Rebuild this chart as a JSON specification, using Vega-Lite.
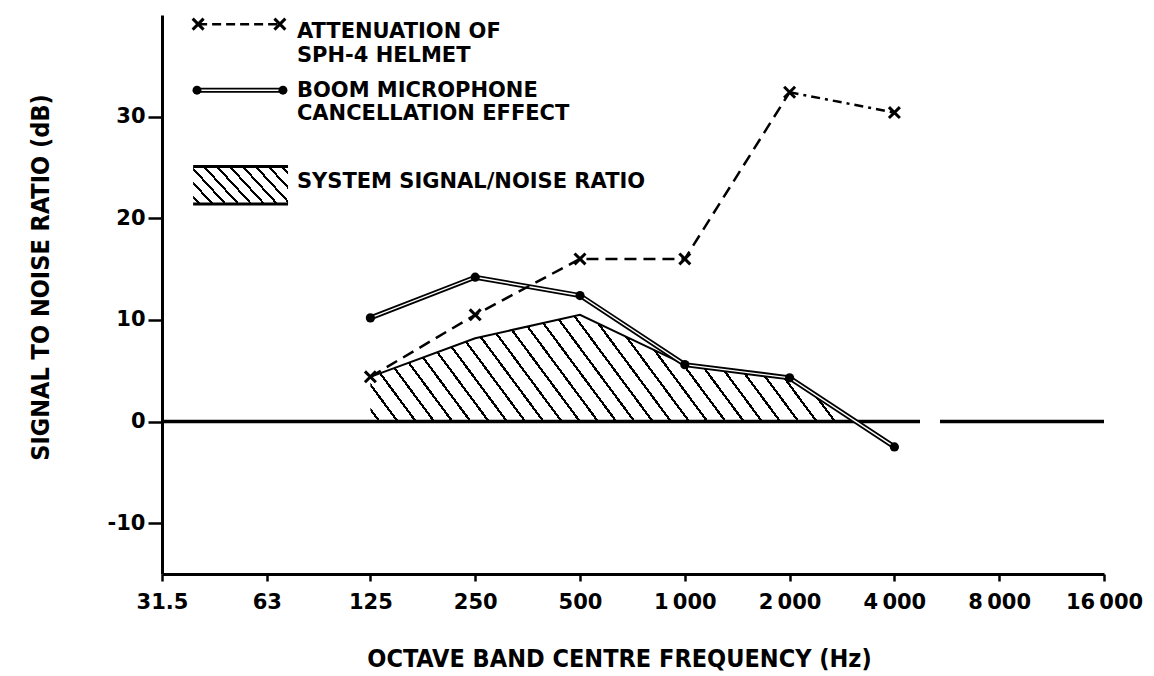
{
  "$schema": "https://vega.github.io/schema/vega-lite/v6.json",
  "width": 942,
  "height": 559,
  "autosize": {"type": "none"},
  "padding": {"left": 162, "top": 15, "right": 50, "bottom": 102},
  "background": "white",
  "config": {
    "view": {"stroke": null},
    "axis": {
      "grid": false,
      "domainColor": "black",
      "domainWidth": 3,
      "tickColor": "black",
      "tickWidth": 2.5,
      "labelColor": "black",
      "labelFont": "DejaVu Sans",
      "labelFontWeight": "bold",
      "labelFontSize": 21,
      "titleFont": "DejaVu Sans Condensed",
      "titleFontWeight": "bold",
      "titleFontSize": 25,
      "titleColor": "black"
    }
  },
  "datasets": {
    "attenuation": [
      {"freq": 125, "db": 4.4},
      {"freq": 250, "db": 10.5},
      {"freq": 500, "db": 16.0},
      {"freq": 1000, "db": 16.0},
      {"freq": 2000, "db": 32.4},
      {"freq": 4000, "db": 30.4}
    ],
    "boom": [
      {"freq": 125, "db": 10.2},
      {"freq": 250, "db": 14.2},
      {"freq": 500, "db": 12.4},
      {"freq": 1000, "db": 5.6},
      {"freq": 2000, "db": 4.3},
      {"freq": 4000, "db": -2.5}
    ],
    "system": [
      {"freq": 125, "db": 4.4},
      {"freq": 250, "db": 8.2},
      {"freq": 500, "db": 10.5},
      {"freq": 1000, "db": 5.6},
      {"freq": 2000, "db": 4.3},
      {"freq": 3100, "db": 0}
    ]
  },
  "data": {"values": [{}]},
  "layer": [
    {
      "data": {"name": "system"},
      "mark": {
        "type": "area",
        "stroke": null,
        "fillOpacity": 1,
        "fill": {
          "gradient": "linear",
          "x1": 0, "y1": 1, "x2": 1.1331, "y2": 0.8152,
          "stops": [
            {"offset": 0, "color": "white"},
            {"offset": 0.0136, "color": "white"}, {"offset": 0.0136, "color": "black"}, {"offset": 0.0186, "color": "black"}, {"offset": 0.0186, "color": "white"},
            {"offset": 0.0459, "color": "white"}, {"offset": 0.0459, "color": "black"}, {"offset": 0.0509, "color": "black"}, {"offset": 0.0509, "color": "white"},
            {"offset": 0.0781, "color": "white"}, {"offset": 0.0781, "color": "black"}, {"offset": 0.0831, "color": "black"}, {"offset": 0.0831, "color": "white"},
            {"offset": 0.1104, "color": "white"}, {"offset": 0.1104, "color": "black"}, {"offset": 0.1154, "color": "black"}, {"offset": 0.1154, "color": "white"},
            {"offset": 0.1427, "color": "white"}, {"offset": 0.1427, "color": "black"}, {"offset": 0.1477, "color": "black"}, {"offset": 0.1477, "color": "white"},
            {"offset": 0.1749, "color": "white"}, {"offset": 0.1749, "color": "black"}, {"offset": 0.1799, "color": "black"}, {"offset": 0.1799, "color": "white"},
            {"offset": 0.2072, "color": "white"}, {"offset": 0.2072, "color": "black"}, {"offset": 0.2122, "color": "black"}, {"offset": 0.2122, "color": "white"},
            {"offset": 0.2394, "color": "white"}, {"offset": 0.2394, "color": "black"}, {"offset": 0.2444, "color": "black"}, {"offset": 0.2444, "color": "white"},
            {"offset": 0.2717, "color": "white"}, {"offset": 0.2717, "color": "black"}, {"offset": 0.2767, "color": "black"}, {"offset": 0.2767, "color": "white"},
            {"offset": 0.3040, "color": "white"}, {"offset": 0.3040, "color": "black"}, {"offset": 0.3090, "color": "black"}, {"offset": 0.3090, "color": "white"},
            {"offset": 0.3362, "color": "white"}, {"offset": 0.3362, "color": "black"}, {"offset": 0.3412, "color": "black"}, {"offset": 0.3412, "color": "white"},
            {"offset": 0.3685, "color": "white"}, {"offset": 0.3685, "color": "black"}, {"offset": 0.3735, "color": "black"}, {"offset": 0.3735, "color": "white"},
            {"offset": 0.4007, "color": "white"}, {"offset": 0.4007, "color": "black"}, {"offset": 0.4057, "color": "black"}, {"offset": 0.4057, "color": "white"},
            {"offset": 0.4330, "color": "white"}, {"offset": 0.4330, "color": "black"}, {"offset": 0.4380, "color": "black"}, {"offset": 0.4380, "color": "white"},
            {"offset": 0.4652, "color": "white"}, {"offset": 0.4652, "color": "black"}, {"offset": 0.4702, "color": "black"}, {"offset": 0.4702, "color": "white"},
            {"offset": 0.4975, "color": "white"}, {"offset": 0.4975, "color": "black"}, {"offset": 0.5025, "color": "black"}, {"offset": 0.5025, "color": "white"},
            {"offset": 0.5298, "color": "white"}, {"offset": 0.5298, "color": "black"}, {"offset": 0.5348, "color": "black"}, {"offset": 0.5348, "color": "white"},
            {"offset": 0.5620, "color": "white"}, {"offset": 0.5620, "color": "black"}, {"offset": 0.5670, "color": "black"}, {"offset": 0.5670, "color": "white"},
            {"offset": 0.5943, "color": "white"}, {"offset": 0.5943, "color": "black"}, {"offset": 0.5993, "color": "black"}, {"offset": 0.5993, "color": "white"},
            {"offset": 0.6265, "color": "white"}, {"offset": 0.6265, "color": "black"}, {"offset": 0.6315, "color": "black"}, {"offset": 0.6315, "color": "white"},
            {"offset": 0.6588, "color": "white"}, {"offset": 0.6588, "color": "black"}, {"offset": 0.6638, "color": "black"}, {"offset": 0.6638, "color": "white"},
            {"offset": 0.6910, "color": "white"}, {"offset": 0.6910, "color": "black"}, {"offset": 0.6960, "color": "black"}, {"offset": 0.6960, "color": "white"},
            {"offset": 0.7233, "color": "white"}, {"offset": 0.7233, "color": "black"}, {"offset": 0.7283, "color": "black"}, {"offset": 0.7283, "color": "white"},
            {"offset": 0.7556, "color": "white"}, {"offset": 0.7556, "color": "black"}, {"offset": 0.7606, "color": "black"}, {"offset": 0.7606, "color": "white"},
            {"offset": 0.7878, "color": "white"}, {"offset": 0.7878, "color": "black"}, {"offset": 0.7928, "color": "black"}, {"offset": 0.7928, "color": "white"},
            {"offset": 0.8201, "color": "white"}, {"offset": 0.8201, "color": "black"}, {"offset": 0.8251, "color": "black"}, {"offset": 0.8251, "color": "white"},
            {"offset": 0.8523, "color": "white"}, {"offset": 0.8523, "color": "black"}, {"offset": 0.8573, "color": "black"}, {"offset": 0.8573, "color": "white"},
            {"offset": 0.8846, "color": "white"}, {"offset": 0.8846, "color": "black"}, {"offset": 0.8896, "color": "black"}, {"offset": 0.8896, "color": "white"},
            {"offset": 0.9169, "color": "white"}, {"offset": 0.9169, "color": "black"}, {"offset": 0.9219, "color": "black"}, {"offset": 0.9219, "color": "white"},
            {"offset": 0.9491, "color": "white"}, {"offset": 0.9491, "color": "black"}, {"offset": 0.9541, "color": "black"}, {"offset": 0.9541, "color": "white"},
            {"offset": 0.9814, "color": "white"}, {"offset": 0.9814, "color": "black"}, {"offset": 0.9864, "color": "black"}, {"offset": 0.9864, "color": "white"},
            {"offset": 1, "color": "white"}
          ]
        }
      },
      "encoding": {
        "x": {
          "field": "freq",
          "type": "quantitative",
          "scale": {"type": "log", "base": 2, "domain": [31.5, 16000], "nice": false},
          "axis": {
            "values": [31.5, 63, 125, 250, 500, 1000, 2000, 4000, 8000, 16000],
            "labelExpr": "replace(format(datum.value, ','), ',', '\u2009')",
            "tickSize": 7,
            "labelPadding": 10,
            "labelFlush": false,
            "labelOverlap": false,
            "title": "OCTAVE BAND CENTRE FREQUENCY (Hz)",
            "titleX": 457,
            "titleY": 84,
            "titleBaseline": "middle"
          }
        },
        "y": {
          "field": "db",
          "type": "quantitative",
          "scale": {"domain": [-15, 40], "nice": false, "zero": false},
          "axis": {
            "values": [-10, 0, 10, 20, 30],
            "labelExpr": "datum.value < 0 ? '-' + abs(datum.value) : '' + datum.value",
            "tickSize": 14,
            "labelPadding": 3,
            "title": "SIGNAL TO NOISE RATIO (dB)",
            "titleX": -122,
            "titleY": 262,
            "titleAngle": -90,
            "titleBaseline": "middle"
          }
        },
        "y2": {"datum": 0}
      }
    },
    {
      "data": {"name": "system"},
      "mark": {"type": "line", "color": "black", "strokeWidth": 2},
      "encoding": {
        "x": {"field": "freq", "type": "quantitative"},
        "y": {"field": "db", "type": "quantitative"}
      }
    },
    {
      "mark": {"type": "rule", "color": "black", "strokeWidth": 3.5, "strokeDash": [164, 20, 800]},
      "encoding": {"y": {"datum": 0, "type": "quantitative"}}
    },
    {
      "data": {"name": "boom"},
      "mark": {"type": "line", "color": "black", "strokeWidth": 5},
      "encoding": {
        "x": {"field": "freq", "type": "quantitative"},
        "y": {"field": "db", "type": "quantitative"}
      }
    },
    {
      "data": {"name": "boom"},
      "mark": {"type": "line", "color": "white", "strokeWidth": 1.4},
      "encoding": {
        "x": {"field": "freq", "type": "quantitative"},
        "y": {"field": "db", "type": "quantitative"}
      }
    },
    {
      "data": {"name": "boom"},
      "mark": {"type": "point", "shape": "circle", "filled": true, "color": "black", "size": 85, "opacity": 1},
      "encoding": {
        "x": {"field": "freq", "type": "quantitative"},
        "y": {"field": "db", "type": "quantitative"}
      }
    },
    {
      "data": {"name": "attenuation"},
      "transform": [{"filter": "datum.freq <= 2000"}],
      "mark": {"type": "line", "color": "black", "strokeWidth": 2.5, "strokeDash": [12, 7]},
      "encoding": {
        "x": {"field": "freq", "type": "quantitative"},
        "y": {"field": "db", "type": "quantitative"}
      }
    },
    {
      "data": {"name": "attenuation"},
      "transform": [{"filter": "datum.freq >= 2000"}],
      "mark": {"type": "line", "color": "black", "strokeWidth": 2.5, "strokeDash": [9, 5, 3, 5]},
      "encoding": {
        "x": {"field": "freq", "type": "quantitative"},
        "y": {"field": "db", "type": "quantitative"}
      }
    },
    {
      "data": {"name": "attenuation"},
      "mark": {"type": "point", "shape": "M-1,-1L1,1M1,-1L-1,1", "filled": false, "stroke": "black", "strokeWidth": 3, "size": 120, "opacity": 1},
      "encoding": {
        "x": {"field": "freq", "type": "quantitative"},
        "y": {"field": "db", "type": "quantitative"}
      }
    },
    {
      "mark": {"type": "rule", "color": "black", "strokeWidth": 2.5, "strokeDash": [9, 5]},
      "encoding": {
        "x": {"datum": 40.0, "type": "quantitative"},
        "x2": {"datum": 68.7},
        "y": {"datum": 39.1, "type": "quantitative"}
      }
    },
    {
      "mark": {"type": "point", "shape": "M-1,-1L1,1M1,-1L-1,1", "filled": false, "stroke": "black", "strokeWidth": 3, "size": 120, "opacity": 1},
      "encoding": {
        "x": {"datum": 40.0, "type": "quantitative"},
        "y": {"datum": 39.1, "type": "quantitative"}
      }
    },
    {
      "mark": {"type": "point", "shape": "M-1,-1L1,1M1,-1L-1,1", "filled": false, "stroke": "black", "strokeWidth": 3, "size": 120, "opacity": 1},
      "encoding": {
        "x": {"datum": 68.7, "type": "quantitative"},
        "y": {"datum": 39.1, "type": "quantitative"}
      }
    },
    {
      "mark": {"type": "rule", "color": "black", "strokeWidth": 5},
      "encoding": {
        "x": {"datum": 39.7, "type": "quantitative"},
        "x2": {"datum": 70.1},
        "y": {"datum": 32.6, "type": "quantitative"}
      }
    },
    {
      "mark": {"type": "rule", "color": "white", "strokeWidth": 1.4},
      "encoding": {
        "x": {"datum": 39.7, "type": "quantitative"},
        "x2": {"datum": 70.1},
        "y": {"datum": 32.6, "type": "quantitative"}
      }
    },
    {
      "mark": {"type": "point", "shape": "circle", "filled": true, "color": "black", "size": 80, "opacity": 1},
      "encoding": {
        "x": {"datum": 39.7, "type": "quantitative"},
        "y": {"datum": 32.6, "type": "quantitative"}
      }
    },
    {
      "mark": {"type": "point", "shape": "circle", "filled": true, "color": "black", "size": 80, "opacity": 1},
      "encoding": {
        "x": {"datum": 70.1, "type": "quantitative"},
        "y": {"datum": 32.6, "type": "quantitative"}
      }
    },
    {
      "mark": {
        "type": "rect",
        "fill": {
          "gradient": "linear",
          "x1": 0, "y1": 1, "x2": 1.2044, "y2": 0.562,
          "stops": [
            {"offset": 0, "color": "white"},
            {"offset": 0.039, "color": "white"}, {"offset": 0.039, "color": "black"}, {"offset": 0.061, "color": "black"}, {"offset": 0.061, "color": "white"},
            {"offset": 0.139, "color": "white"}, {"offset": 0.139, "color": "black"}, {"offset": 0.161, "color": "black"}, {"offset": 0.161, "color": "white"},
            {"offset": 0.239, "color": "white"}, {"offset": 0.239, "color": "black"}, {"offset": 0.261, "color": "black"}, {"offset": 0.261, "color": "white"},
            {"offset": 0.339, "color": "white"}, {"offset": 0.339, "color": "black"}, {"offset": 0.361, "color": "black"}, {"offset": 0.361, "color": "white"},
            {"offset": 0.439, "color": "white"}, {"offset": 0.439, "color": "black"}, {"offset": 0.461, "color": "black"}, {"offset": 0.461, "color": "white"},
            {"offset": 0.539, "color": "white"}, {"offset": 0.539, "color": "black"}, {"offset": 0.561, "color": "black"}, {"offset": 0.561, "color": "white"},
            {"offset": 0.639, "color": "white"}, {"offset": 0.639, "color": "black"}, {"offset": 0.661, "color": "black"}, {"offset": 0.661, "color": "white"},
            {"offset": 0.739, "color": "white"}, {"offset": 0.739, "color": "black"}, {"offset": 0.761, "color": "black"}, {"offset": 0.761, "color": "white"},
            {"offset": 0.839, "color": "white"}, {"offset": 0.839, "color": "black"}, {"offset": 0.861, "color": "black"}, {"offset": 0.861, "color": "white"},
            {"offset": 0.939, "color": "white"}, {"offset": 0.939, "color": "black"}, {"offset": 0.961, "color": "black"}, {"offset": 0.961, "color": "white"},
            {"offset": 1, "color": "white"}
          ]
        },
        "stroke": null
      },
      "encoding": {
        "x": {"datum": 38.7, "type": "quantitative"},
        "x2": {"datum": 72.5},
        "y": {"datum": 25.1, "type": "quantitative"},
        "y2": {"datum": 21.4}
      }
    },
    {
      "mark": {"type": "rule", "color": "black", "strokeWidth": 3},
      "encoding": {
        "x": {"datum": 38.7, "type": "quantitative"},
        "x2": {"datum": 72.5},
        "y": {"datum": 25.1, "type": "quantitative"}
      }
    },
    {
      "mark": {"type": "rule", "color": "black", "strokeWidth": 3},
      "encoding": {
        "x": {"datum": 38.7, "type": "quantitative"},
        "x2": {"datum": 72.5},
        "y": {"datum": 21.4, "type": "quantitative"}
      }
    },
    {
      "mark": {"type": "text", "text": "ATTENUATION OF", "align": "left", "baseline": "middle", "font": "DejaVu Sans", "fontWeight": "bold", "fontSize": 21, "color": "black"},
      "encoding": {
        "x": {"datum": 76.9, "type": "quantitative"},
        "y": {"datum": 38.3, "type": "quantitative"}
      }
    },
    {
      "mark": {"type": "text", "text": "SPH-4 HELMET", "align": "left", "baseline": "middle", "font": "DejaVu Sans", "fontWeight": "bold", "fontSize": 21, "color": "black"},
      "encoding": {
        "x": {"datum": 76.9, "type": "quantitative"},
        "y": {"datum": 36.0, "type": "quantitative"}
      }
    },
    {
      "mark": {"type": "text", "text": "BOOM MICROPHONE", "align": "left", "baseline": "middle", "font": "DejaVu Sans", "fontWeight": "bold", "fontSize": 21, "color": "black"},
      "encoding": {
        "x": {"datum": 76.9, "type": "quantitative"},
        "y": {"datum": 32.5, "type": "quantitative"}
      }
    },
    {
      "mark": {"type": "text", "text": "CANCELLATION EFFECT", "align": "left", "baseline": "middle", "font": "DejaVu Sans", "fontWeight": "bold", "fontSize": 21, "color": "black"},
      "encoding": {
        "x": {"datum": 76.9, "type": "quantitative"},
        "y": {"datum": 30.3, "type": "quantitative"}
      }
    },
    {
      "mark": {"type": "text", "text": "SYSTEM SIGNAL/NOISE RATIO", "align": "left", "baseline": "middle", "font": "DejaVu Sans", "fontWeight": "bold", "fontSize": 21, "color": "black"},
      "encoding": {
        "x": {"datum": 76.9, "type": "quantitative"},
        "y": {"datum": 23.6, "type": "quantitative"}
      }
    }
  ]
}
